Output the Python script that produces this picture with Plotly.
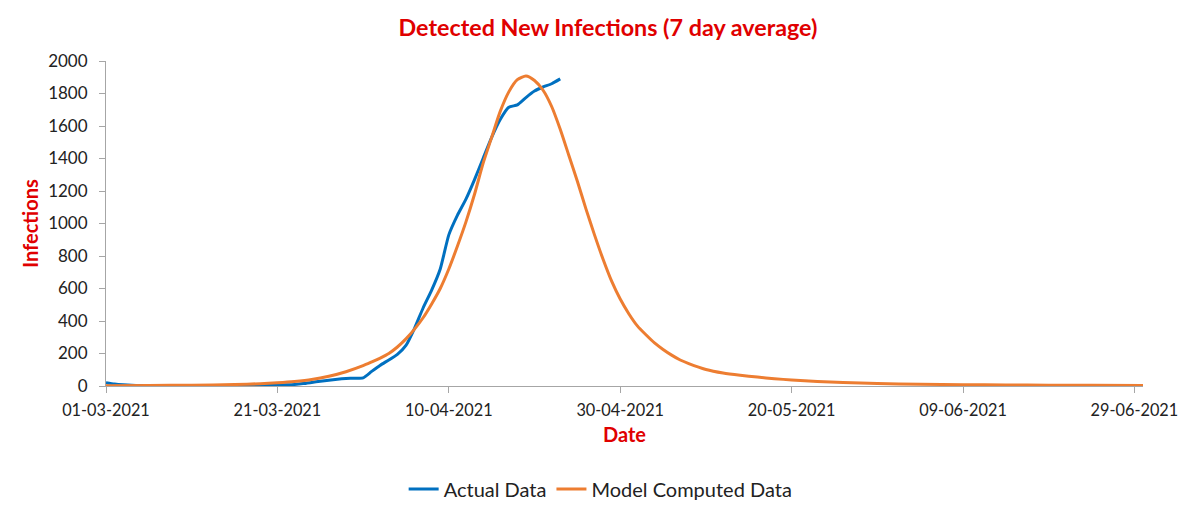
import plotly.graph_objects as go
import pandas as pd

start = pd.Timestamp("2021-03-01")

actual_days = list(range(0, 54))
actual_values = [20, 12, 7, 4, 3, 2, 2, 2, 2, 2, 2, 2, 2, 2, 3, 3, 3, 3, 4, 4,
                 5, 7, 10, 15, 22, 29, 36, 42, 46, 48, 50, 90, 128, 160, 195, 250, 355, 480, 590, 720,
                 930, 1050, 1150, 1270, 1400, 1530, 1640, 1715, 1730, 1775, 1815, 1840, 1860, 1890]

model_days = [0, 5, 10, 15, 18, 20, 22, 24, 26, 28, 30, 31, 32, 33, 34, 35, 36, 37, 38, 39,
              40, 41, 42, 43, 44, 45, 46, 47, 48, 49, 50, 51, 52, 53, 54, 55, 56, 57, 58, 59,
              60, 61, 62, 63, 64, 65, 66, 67, 68, 70, 72, 74, 76, 78, 80, 83, 86, 90, 95, 100,
              105, 110, 115, 121]
model_values = [2, 3, 5, 9, 14, 20, 28, 40, 60, 88, 125, 148, 172, 200, 240, 290, 350, 420, 505, 600,
                720, 860, 1010, 1180, 1370, 1530, 1690, 1810, 1885, 1908, 1880, 1820, 1720, 1580, 1420, 1260, 1090, 930, 780, 645,
                535, 445, 370, 315, 265, 225, 190, 160, 138, 102, 80, 66, 55, 45, 37, 28, 21, 15, 11, 8,
                6, 5, 4, 3]

tick_labels = ["01-03-2021", "21-03-2021", "10-04-2021", "30-04-2021",
               "20-05-2021", "09-06-2021", "29-06-2021"]
tick_vals = [pd.to_datetime(t, format="%d-%m-%Y") for t in tick_labels]

actual_dates = [start + pd.Timedelta(days=d) for d in actual_days]
model_dates = [start + pd.Timedelta(days=d) for d in model_days]

FONT = "Lato"
RED = "#E00000"

fig = go.Figure()
fig.add_trace(go.Scatter(x=actual_dates, y=actual_values, mode="lines", name="Actual Data",
                         line=dict(color="#0070C0", width=3, shape="spline", smoothing=0.5)))
fig.add_trace(go.Scatter(x=model_dates, y=model_values, mode="lines", name="Model Computed Data",
                         line=dict(color="#ED7D31", width=3, shape="spline", smoothing=0.6)))

fig.update_layout(
    width=1200, height=515,
    paper_bgcolor="white", plot_bgcolor="white",
    margin=dict(l=98, r=65, t=53, b=137),
    font=dict(family=FONT, size=17, color="#222222"),
    title=dict(text="<b>Detected New Infections (7 day average)</b>", x=0.5, xanchor="center",
               y=0.962, yanchor="middle", font=dict(family=FONT, size=23.3, color=RED)),
    xaxis=dict(type="date", range=[start, start + pd.Timedelta(days=121)],
               tickvals=tick_vals, ticktext=tick_labels, tickangle=0, showgrid=False,
               showline=True, linecolor="#A6A6A6", linewidth=1,
               ticks="outside", ticklen=6, tickcolor="#A6A6A6", ticklabelstandoff=3,
               tickfont=dict(family=FONT, size=16.3, color="#222222"),
               title=dict(text="<b>Date</b>", font=dict(family=FONT, size=20, color=RED), standoff=10),
               zeroline=False, automargin=False),
    yaxis=dict(range=[0, 2000], dtick=200, showgrid=False,
               showline=True, linecolor="#A6A6A6", linewidth=1,
               ticks="outside", ticklen=6, tickcolor="#A6A6A6", ticklabelstandoff=8,
               tickfont=dict(family=FONT, size=17, color="#222222"),
               title=dict(text="<b>Infections</b>", font=dict(family=FONT, size=20, color=RED), standoff=4),
               zeroline=False, automargin=False),
    legend=dict(orientation="h", x=0.477, xanchor="center",
                y=-0.317, yanchor="middle", itemwidth=30,
                font=dict(family=FONT, size=20, color="#222222")),
    showlegend=True,
)

fig.write_html("out.html")
